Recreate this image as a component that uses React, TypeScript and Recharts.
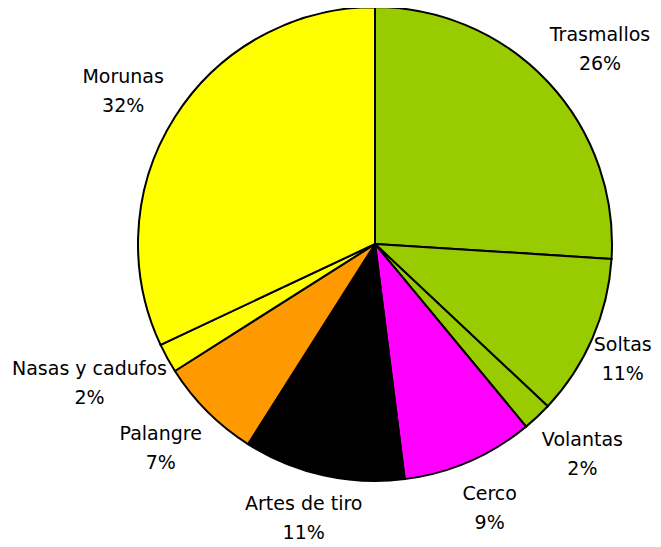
import { PieChart, Pie, Cell } from 'recharts';

const categories = [
  'Trasmallos',
  'Soltas',
  'Volantas',
  'Cerco',
  'Artes de tiro',
  'Palangre',
  'Nasas y cadufos',
  'Morunas',
];
const shares = [26, 11, 2, 9, 11, 7, 2, 32];
const COLORS = [
  '#99CC00', // green
  '#99CC00',
  '#99CC00',
  '#FF00FF', // magenta
  '#000000',
  '#FF9900', // orange
  '#FFFF00', // yellow
  '#FFFF00',
];

const data = categories.map((name, i) => ({ name, value: shares[i] }));

const W = 661;
const H = 547;
const FONT = 19;
const RAD = Math.PI / 180;

// label box sits just outside the slice, pushed out by its own half size,
// and kept inside the chart area
const renderLabel = (props: any) => {
  const { cx, cy, midAngle, outerRadius, name, value } = props;
  const dx = Math.cos(-midAngle * RAD);
  const dy = Math.sin(-midAngle * RAD);
  const halfW = (name.length * FONT * 0.5) / 2;
  const halfH = 22;
  const r = outerRadius + 28;
  const maxHalf = (name.length * FONT * 0.6) / 2;
  let x = cx + dx * r + dx * halfW;
  x = Math.min(Math.max(x, maxHalf + 4), W - maxHalf - 4);
  let y = cy + dy * r + dy * halfH;
  y = Math.min(Math.max(y, 30), H - 30);
  return (
    <text
      x={x}
      y={y}
      textAnchor="middle"
      fill="#000"
      fontSize={FONT}
      fontFamily="'DejaVu Sans', Verdana, sans-serif"
    >
      <tspan x={x} y={y - 7}>{name}</tspan>
      <tspan x={x} y={y + 22}>{`${value}%`}</tspan>
    </text>
  );
};

export default function App() {
  return (
    <div style={{ width: W, height: H, margin: -8, background: '#fff' }}>
      <PieChart width={W} height={H} margin={{ top: 0, right: 0, bottom: 0, left: 0 }}>
        <Pie
          data={data}
          dataKey="value"
          nameKey="name"
          cx={375}
          cy={244}
          outerRadius={237}
          startAngle={90}
          endAngle={-270}
          stroke="#000"
          strokeWidth={2}
          label={renderLabel}
          labelLine={false}
          isAnimationActive={false}
        >
          {data.map((entry, index) => (
            <Cell key={`cell-${index}`} fill={COLORS[index]} />
          ))}
        </Pie>
      </PieChart>
    </div>
  );
}
